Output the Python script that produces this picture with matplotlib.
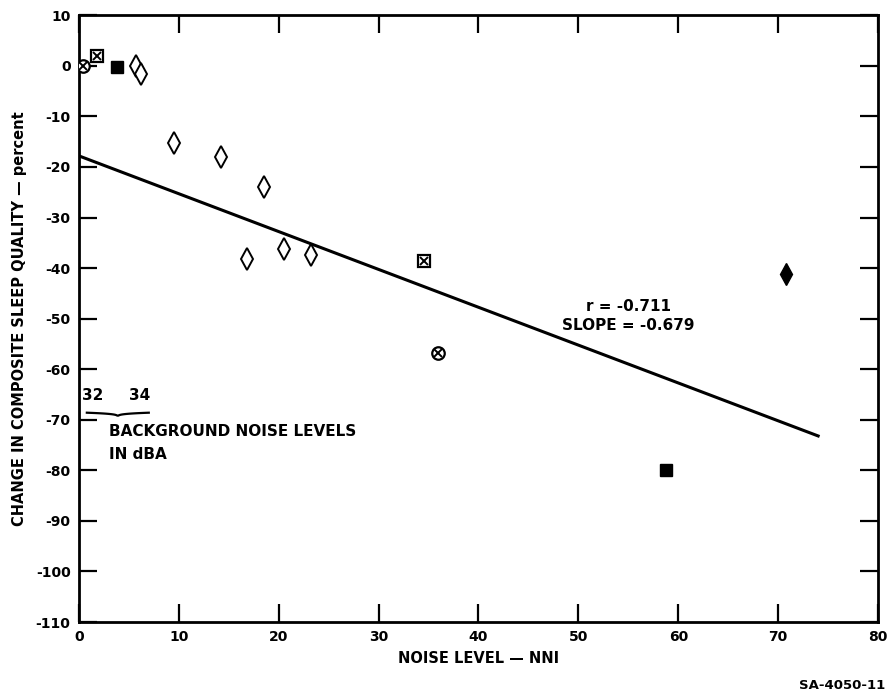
import numpy as np
import matplotlib
matplotlib.use('Agg')
import matplotlib.pyplot as plt

plt.rcParams['font.family'] = 'DejaVu Sans'
plt.rcParams['axes.unicode_minus'] = False

# data (x = NNI, y = change in sleep quality, %)
open_dia_x = [5.7, 6.2, 9.5, 14.2, 18.5, 16.8, 20.5, 23.2]
open_dia_y = [0.0, -1.7, -15.3, -18.1, -24.0, -38.2, -36.2, -37.4]
circ_x_x = [0.4, 35.9]
circ_x_y = [0.0, -56.8]
box_x_x = [1.8, 34.5]
box_x_y = [2.0, -38.6]
fill_sq_x = [3.8, 58.8]
fill_sq_y = [-0.3, -80.0]
fill_dia_x = [70.8]
fill_dia_y = [-41.2]
fit_x = [0.0, 74.0]
fit_y = [-17.8, -73.2]
r_text = 'r = -0.711'
slope_text = 'SLOPE = -0.679'

fig = plt.figure(figsize=(8.96, 6.95), dpi=100, facecolor='white')
ax = fig.add_axes([0.088, 0.105, 0.892, 0.873])
ax.set_xlim(0, 80); ax.set_ylim(-110, 10)

ax.plot(fit_x, fit_y, color='black', lw=2.2, zorder=2)
ax.plot(open_dia_x, open_dia_y, ls='none', marker='d', ms=11, mfc='white', mec='black', mew=1.4, zorder=3)
ax.plot(fill_dia_x, fill_dia_y, ls='none', marker='d', ms=11, mfc='black', mec='black', zorder=3)
ax.plot(fill_sq_x, fill_sq_y, ls='none', marker='s', ms=9, mfc='black', mec='black', zorder=3)
ax.plot(circ_x_x, circ_x_y, ls='none', marker='o', ms=9, mfc='white', mec='black', mew=1.6, zorder=3)
ax.plot(circ_x_x, circ_x_y, ls='none', marker='x', ms=6, mec='black', mew=1.4, zorder=4)
ax.plot(box_x_x, box_x_y, ls='none', marker='s', ms=9, mfc='white', mec='black', mew=1.6, zorder=3)
ax.plot(box_x_x, box_x_y, ls='none', marker='x', ms=6, mec='black', mew=1.4, zorder=4)

txt = dict(fontsize=11, fontweight='bold', color='black')
ax.text(55.0, -47.6, r_text, ha='center', va='center', **txt)
ax.text(55.0, -51.3, slope_text, ha='center', va='center', **txt)

# background noise brace
ax.text(1.4, -65.2, '32', ha='center', va='center', **txt)
ax.text(6.1, -65.2, '34', ha='center', va='center', **txt)
bx = np.linspace(0.8, 7.0, 60)
by = -68.6 + 0.9 * (np.abs(bx - 3.9) / 3.1) ** 0.25 - 0.9
ax.plot(bx, by, color='black', lw=1.6)
ax.text(3.0, -72.4, 'BACKGROUND NOISE LEVELS', ha='left', va='center', **txt)
ax.text(3.0, -76.8, 'IN dBA', ha='left', va='center', **txt)

ax.set_xticks(np.arange(0, 81, 10))
ax.set_yticks(np.arange(-110, 11, 10))
ax.tick_params(direction='in', length=13, width=1.6, top=True, right=True, labelsize=10, pad=6)
for lab in ax.get_xticklabels() + ax.get_yticklabels():
    lab.set_fontweight('bold')
for s in ax.spines.values():
    s.set_linewidth(2)

ax.set_xlabel('NOISE LEVEL \u2014 NNI', fontsize=10.5, fontweight='bold', labelpad=5)
ax.set_ylabel('CHANGE IN COMPOSITE SLEEP QUALITY \u2014 percent', fontsize=10.5, fontweight='bold', labelpad=6)
fig.text(0.988, 0.013, 'SA-4050-11', ha='right', va='center', fontsize=9.5, fontweight='bold')

fig.savefig('out.png', dpi=100)
